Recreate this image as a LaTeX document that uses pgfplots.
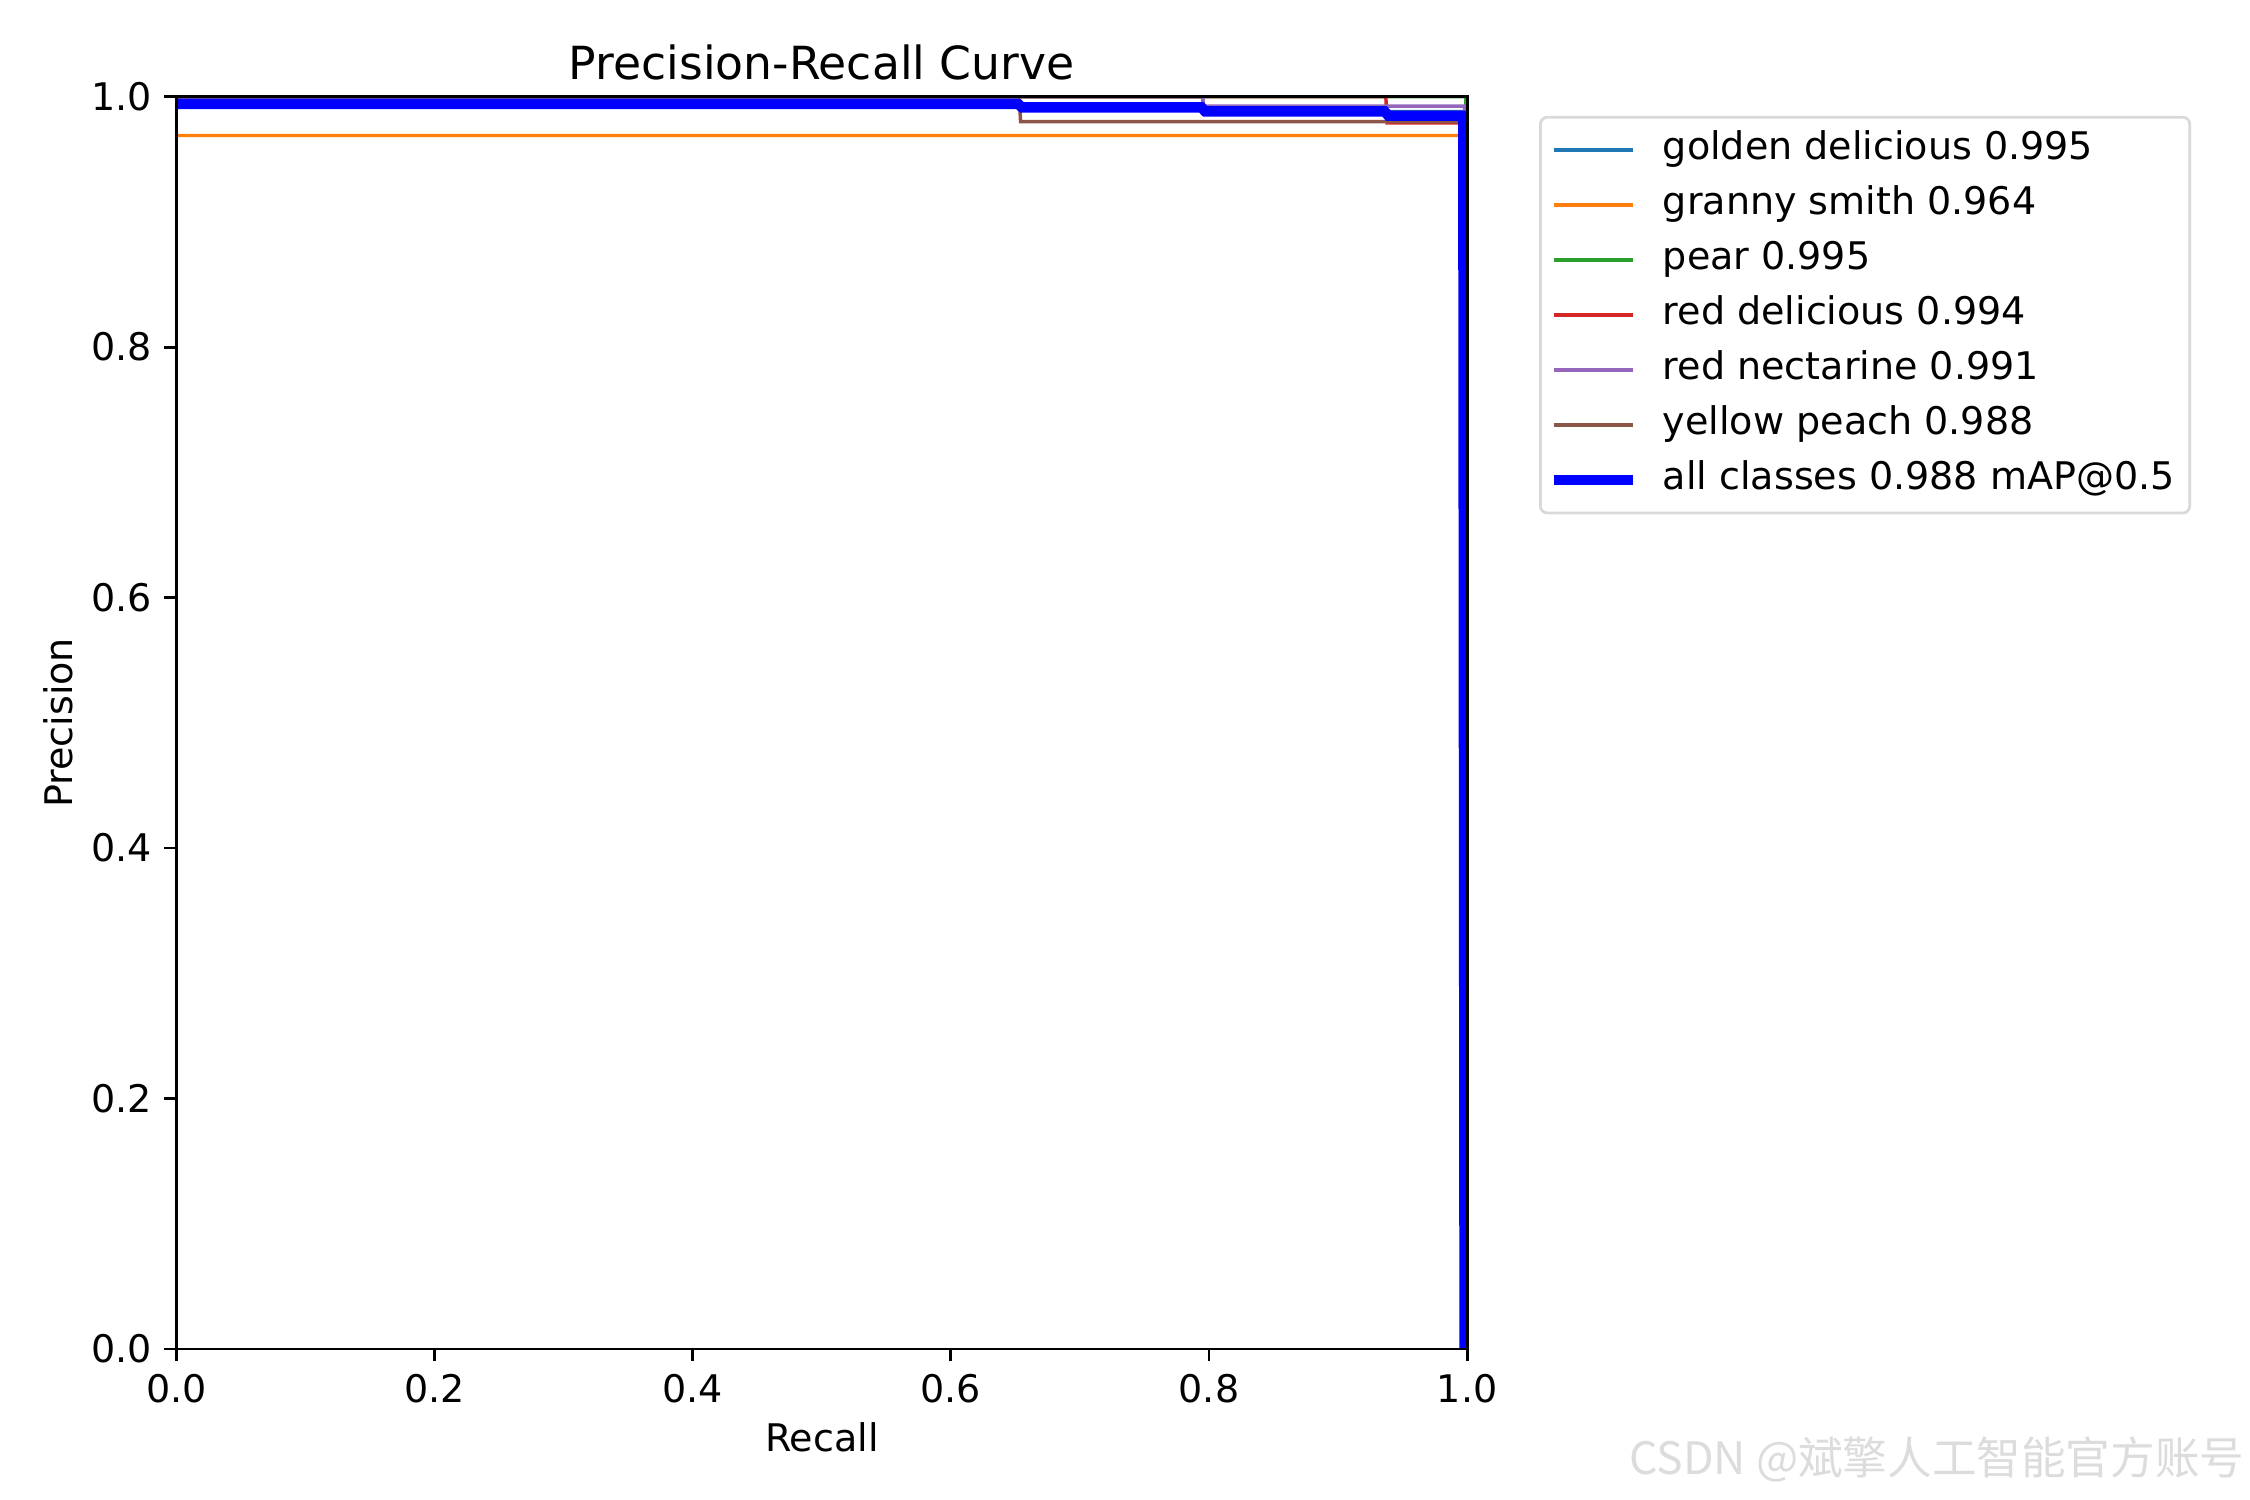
\documentclass[border=0pt]{standalone}
\usepackage{fontspec}
\setmainfont{DejaVu Sans}
\newfontfamily\cjk{Noto Sans CJK SC}
\usepackage{pgfplots}
\pgfplotsset{compat=1.18}
\definecolor{c0}{HTML}{1F77B4}
\definecolor{c1}{HTML}{FF7F0E}
\definecolor{c2}{HTML}{2CA02C}
\definecolor{c3}{HTML}{D62728}
\definecolor{c4}{HTML}{9467BD}
\definecolor{c5}{HTML}{8C564B}
\definecolor{wm}{HTML}{DCDCDC}
\begin{document}
\begin{tikzpicture}
\useasboundingbox (0,0) rectangle (650.4pt,433.6pt);
\begin{axis}[
  at={(51.0pt,43.65pt)}, anchor=south west,
  scale only axis, width=373.1pt, height=362.0pt,
  xmin=0, xmax=1, ymin=0, ymax=1,
  xtick={0,0.2,0.4,0.6,0.8,1},
  ytick={0,0.2,0.4,0.6,0.8,1},
  xtick pos=left, ytick pos=left,
  tick align=outside,
  major tick length=3.5pt,
  every tick/.style={black, line width=0.8pt},
  axis line style={line width=0.8pt},
  axis on top=true,
  ticklabel style={font=\fontsize{11}{13}\selectfont, inner sep=3.5pt,
    /pgf/number format/fixed,
    /pgf/number format/fixed zerofill,
    /pgf/number format/precision=1,
    /pgf/number format/assume math mode=true},
  title={Precision-Recall Curve},
  every axis title/.style={at={(rel axis cs:0.5,1.0134)}, anchor=base, inner sep=0pt, font=\fontsize{13.2}{15}\selectfont},
  xlabel={Recall},
  every axis x label/.style={at={(rel axis cs:0.5,-0.0819)}, anchor=base, inner sep=0pt, font=\fontsize{11}{13}\selectfont},
  ylabel={Precision},
  every axis y label/.style={at={(rel axis cs:-0.0804,0.5)}, rotate=90, anchor=base, inner sep=0pt, font=\fontsize{11}{13}\selectfont},
  legend image code/.code={\draw[#1] (0pt,0pt) -- (23pt,0pt); \path[draw=none] (0pt,0pt) -- (29.6pt,0pt);},
  legend cell align=left,
  legend style={at={(rel axis cs:1.0557,0.9847)}, anchor=north west,
    draw=black!15, line width=0.8pt, rounded corners=2pt, fill=white,
    inner xsep=2.3pt, inner ysep=4.2pt,
    row sep=5.3pt,
    font=\fontsize{11}{13}\selectfont,
    nodes={inner xsep=2pt, inner ysep=0pt, text height=8pt, text depth=2.6pt}},
]
\addplot[c0, line width=1pt] coordinates {(0,1) (0.795,1) (0.796,0.988) (0.999,0.988) (1,0)};
\addlegendentry{golden delicious 0.995}
\addplot[c1, line width=1pt] coordinates {(0,0.969) (0.995,0.969) (1,0)};
\addlegendentry{granny smith 0.964}
\addplot[c2, line width=1pt] coordinates {(0,1) (0.999,1) (1,0)};
\addlegendentry{pear 0.995}
\addplot[c3, line width=1pt] coordinates {(0,1) (0.937,1) (0.938,0.979) (0.997,0.979) (1,0)};
\addlegendentry{red delicious 0.994}
\addplot[c4, line width=1pt] coordinates {(0,1) (0.795,1) (0.796,0.9925) (0.998,0.9925) (1,0)};
\addlegendentry{red nectarine 0.991}
\addplot[c5, line width=1pt] coordinates {(0,1) (0.653,1) (0.654,0.980) (0.996,0.980) (1,0)};
\addlegendentry{yellow peach 0.988}
\addplot[blue, line width=3pt] coordinates {(0,0.9943) (0.652,0.9943) (0.655,0.9915) (0.794,0.9915) (0.797,0.9883) (0.936,0.9883) (0.939,0.9848) (0.997,0.9848) (0.998,0)};
\addlegendentry{all classes 0.988 mAP@0.5}
\end{axis}
\node[anchor=east, inner sep=0pt, text=wm, font=\cjk\fontsize{12.9}{15}\selectfont] at (649pt,11.6pt) {CSDN @斌擎人工智能官方账号};
\end{tikzpicture}
\end{document}
